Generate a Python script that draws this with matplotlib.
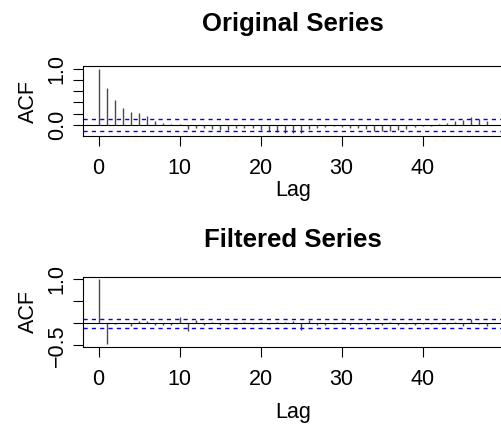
#ACF of the original and the filtered series

import numpy as np
import matplotlib.pyplot as plt

plt.rcParams['font.family'] = ['Liberation Sans', 'DejaVu Sans']

#Lags shown on the x-axis
lags = list(range(0, 49))

#ACF values
acf_original = [1.0, 0.655, 0.435, 0.30, 0.23, 0.215, 0.16, 0.07, 0.03, 0.015,
                0.01, -0.07, -0.05, -0.06, -0.07, -0.09, -0.09, -0.06, -0.05, -0.06,
                -0.09, -0.11, -0.12, -0.15, -0.14, -0.15, -0.08, -0.05, -0.03, -0.02,
                -0.03, -0.05, -0.06, -0.08, -0.10, -0.10, -0.10, -0.09, -0.08, -0.03,
                -0.02, -0.01, 0.01, 0.04, 0.07, 0.09, 0.14, 0.10, 0.07]

#ACF values for the filtered series
acf_filtered = [1.0, -0.47, -0.01, 0.015, -0.05, 0.05, 0.05, -0.04, -0.04, -0.04,
                0.14, -0.17, 0.08, -0.04, 0.04, -0.04, -0.02, -0.02, 0.02, -0.01,
                0.02, -0.02, 0.02, 0.04, 0.06, -0.15, 0.08, -0.04, -0.04, -0.02,
                0.02, -0.04, -0.02, -0.04, -0.02, -0.04, 0.02, -0.04, -0.02, -0.04,
                -0.02, -0.02, -0.02, -0.02, 0.02, -0.06, 0.09, -0.02, -0.07]

#Confidence limit (1.96/sqrt(n))
ci = 0.1

titles = ["Original Series", "Filtered Series"]
y_ticks = [[0.0, 0.2, 0.4, 0.6, 0.8, 1.0], [-0.5, 0.0, 0.5, 1.0]]
y_labels = [["0.0", "", "", "", "", "1.0"], ["\u22120.5", "", "", "1.0"]]
y_limits = [(-0.196, 1.046), (-0.529, 1.059)]

fig = plt.figure(figsize=(5.01, 4.28), dpi=100)

#Axes placement in figure fractions (the right edge runs just past the picture)
bottoms = [0.6822, 0.19]
title_y = [1.60, 1.525]
xlabel_y = [-0.771, -0.947]

for i, acf in enumerate([acf_original, acf_filtered]):
    ax = fig.add_axes([0.1657, bottoms[i], 0.8383, 0.1636])

    ax.vlines(lags, 0, acf, color="#4a4a4a", linewidth=1.0)
    ax.axhline(0, color="black", linewidth=0.8)
    ax.axhline(ci, color="blue", linewidth=1.0, linestyle=(0, (3, 3)))
    ax.axhline(-ci, color="blue", linewidth=1.0, linestyle=(0, (3, 3)))

    ax.set_xlim(-1.92, 49.92)
    ax.set_ylim(*y_limits[i])
    ax.set_xticks([0, 10, 20, 30, 40])
    ax.set_yticks(y_ticks[i])
    ax.set_yticklabels(y_labels[i], rotation=90, va="center")

    ax.tick_params(direction="out", length=7, width=0.8, labelsize=15.5, pad=9)
    ax.tick_params(axis="y", pad=4)
    for s in ax.spines.values():
        s.set_linewidth(0.8)

    ax.set_title(titles[i], fontsize=18.5, fontweight="bold", y=title_y[i], va="center", pad=0)
    ax.set_xlabel("Lag", fontsize=15.5, va="center")
    ax.xaxis.set_label_coords(0.5, xlabel_y[i])
    ax.set_ylabel("ACF", fontsize=15.5, va="center")
    ax.yaxis.set_label_coords(-0.131, 0.5)

fig.savefig("out.png", dpi=100)
